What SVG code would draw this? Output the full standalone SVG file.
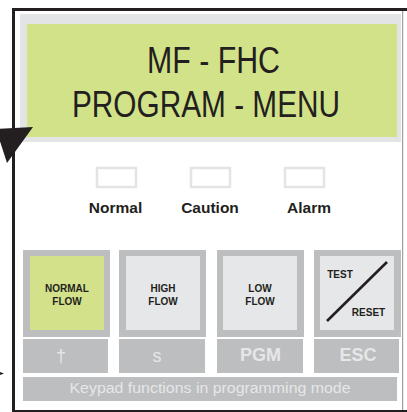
<svg xmlns="http://www.w3.org/2000/svg" width="407" height="412" viewBox="0 0 407 412">
  <style>
    .lcd { font-family: "Liberation Sans", Arial, sans-serif; font-size: 36px; fill: #231f20; text-anchor: middle; }
    .led { fill: #ffffff; stroke: #e3e4e5; stroke-width: 2.5; }
    .ledlbl { font-family: "Liberation Sans", Arial, sans-serif; font-weight: bold; font-size: 15.5px; fill: #231f20; text-anchor: middle; }
    .keyframe { fill: #bcbec0; }
    .keyface { fill: #e6e7e8; }
    .keyface.on { fill: #d3e28a; }
    .keylbl { font-family: "Liberation Sans", Arial, sans-serif; font-weight: bold; font-size: 10px; fill: #231f20; text-anchor: middle; }
    .fn { fill: #bcbec0; }
    .fnlbl { font-family: "Liberation Sans", Arial, sans-serif; font-size: 18px; fill: #e6e7e8; text-anchor: middle; }
    .fnlbl.b { font-weight: bold; }
    .caption { font-family: "Liberation Sans", Arial, sans-serif; font-size: 15.5px; fill: #e6e7e8; text-anchor: middle; }
  </style>

  <rect width="407" height="412" fill="#ffffff"/>

  <!-- housing outline -->
  <g id="housing">
    <rect x="12" y="8" width="395" height="3" fill="#231f20"/>
    <rect x="12" y="8" width="3" height="404" fill="#231f20"/>
    <rect x="12" y="410" width="395" height="2" fill="#231f20"/>
    <rect x="402" y="11" width="1.2" height="399" fill="#9d9fa2"/>
  </g>

  <!-- LCD display -->
  <g id="display">
    <rect x="20" y="14" width="381" height="128" fill="#e3e4e5"/>
    <rect x="27" y="24" width="370" height="113" fill="#d2e288"/>
    <text class="lcd" x="213.5" y="73" textLength="133" lengthAdjust="spacingAndGlyphs">MF - FHC</text>
    <text class="lcd" x="206" y="117" textLength="268" lengthAdjust="spacingAndGlyphs">PROGRAM - MENU</text>
  </g>

  <!-- status LEDs -->
  <g id="led-normal">
    <rect class="led" x="97" y="168" width="39" height="19"/>
    <text class="ledlbl" x="115.5" y="213">Normal</text>
  </g>
  <g id="led-caution">
    <rect class="led" x="191" y="168" width="39" height="19"/>
    <text class="ledlbl" x="210" y="213">Caution</text>
  </g>
  <g id="led-alarm">
    <rect class="led" x="285" y="168" width="39" height="19"/>
    <text class="ledlbl" x="309" y="213">Alarm</text>
  </g>

  <!-- keys -->
  <g id="key-normal-flow">
    <rect class="keyframe" x="23" y="250" width="87" height="87"/>
    <rect class="keyface on" x="30" y="256" width="74" height="74"/>
    <text class="keylbl" x="67" y="292">NORMAL</text>
    <text class="keylbl" x="67" y="305">FLOW</text>
  </g>
  <g id="key-high-flow">
    <rect class="keyframe" x="119" y="250" width="87" height="87"/>
    <rect class="keyface" x="126" y="256" width="74" height="74"/>
    <text class="keylbl" x="163" y="292">HIGH</text>
    <text class="keylbl" x="163" y="305">FLOW</text>
  </g>
  <g id="key-low-flow">
    <rect class="keyframe" x="217" y="250" width="87" height="87"/>
    <rect class="keyface" x="223" y="256" width="74" height="74"/>
    <text class="keylbl" x="260" y="292">LOW</text>
    <text class="keylbl" x="260" y="305">FLOW</text>
  </g>
  <g id="key-test-reset">
    <rect class="keyframe" x="314" y="250" width="87" height="87"/>
    <rect class="keyface" x="320" y="256" width="74" height="74"/>
    <line x1="327" y1="321" x2="387" y2="262" stroke="#231f20" stroke-width="2.6"/>
    <text class="keylbl" x="340" y="278">TEST</text>
    <text class="keylbl" x="368.5" y="316">RESET</text>
  </g>

  <!-- programming-mode functions -->
  <g id="fn-up">
    <rect class="fn" x="23" y="339" width="85" height="34"/>
    <text class="fnlbl" x="61" y="362">†</text>
  </g>
  <g id="fn-down">
    <rect class="fn" x="119" y="339" width="86" height="34"/>
    <text class="fnlbl" x="157" y="362">s</text>
  </g>
  <g id="fn-pgm">
    <rect class="fn" x="217" y="339" width="86" height="34"/>
    <text class="fnlbl b" x="260.5" y="361">PGM</text>
  </g>
  <g id="fn-esc">
    <rect class="fn" x="314" y="339" width="85" height="34"/>
    <text class="fnlbl b" x="358" y="361">ESC</text>
  </g>
  <g id="caption">
    <rect class="fn" x="23" y="377" width="374" height="24"/>
    <text class="caption" x="210" y="393" textLength="281" lengthAdjust="spacingAndGlyphs">Keypad functions in programming mode</text>
  </g>

  <!-- pointers -->
  <g id="connectors" fill="#231f20">
    <polygon points="-4,129 33,127 7,163"/>
    <polygon points="0,372 4,373.5 0,375"/>
  </g>
</svg>
